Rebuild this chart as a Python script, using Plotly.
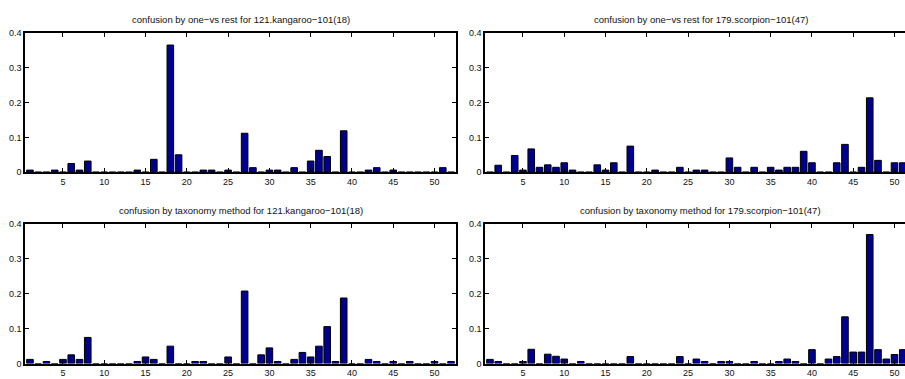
import plotly.graph_objects as go

categories = list(range(1, 53))

kangaroo_one_vs_rest = [
    0.006, 0, 0, 0.006, 0, 0.025, 0.006, 0.032, 0, 0,
    0, 0, 0, 0.006, 0, 0.037, 0, 0.366, 0.05, 0,
    0, 0.006, 0.006, 0, 0.006, 0, 0.112, 0.013, 0, 0.006,
    0.006, 0, 0.013, 0, 0.032, 0.063, 0.045, 0, 0.119, 0,
    0, 0.006, 0.013, 0, 0.006, 0, 0, 0, 0, 0,
    0.013, 0]

scorpion_one_vs_rest = [
    0, 0.02, 0, 0.048, 0.006, 0.067, 0.014, 0.021, 0.014, 0.027,
    0.006, 0, 0, 0.021, 0.006, 0.027, 0, 0.075, 0, 0,
    0.006, 0, 0, 0.014, 0, 0.006, 0.006, 0, 0, 0.041,
    0.014, 0, 0.014, 0, 0.014, 0.006, 0.014, 0.014, 0.06, 0.027,
    0, 0, 0.027, 0.08, 0, 0.014, 0.214, 0.034, 0, 0.027,
    0.027, 0]

kangaroo_taxonomy = [
    0.012, 0, 0.006, 0, 0.012, 0.025, 0.012, 0.075, 0, 0,
    0, 0, 0, 0.006, 0.019, 0.012, 0, 0.05, 0, 0,
    0.006, 0.006, 0, 0, 0.019, 0, 0.208, 0, 0.025, 0.045,
    0.006, 0, 0.012, 0.032, 0.019, 0.05, 0.106, 0.006, 0.188, 0,
    0, 0.012, 0.006, 0, 0.006, 0, 0.006, 0, 0, 0.006,
    0, 0.006]

scorpion_taxonomy = [
    0.012, 0.006, 0, 0, 0.006, 0.041, 0, 0.027, 0.021, 0.013,
    0, 0.006, 0, 0, 0, 0, 0, 0.02, 0, 0,
    0, 0, 0, 0.02, 0, 0.013, 0.006, 0, 0.006, 0.006,
    0, 0, 0.006, 0, 0, 0.006, 0.013, 0.006, 0, 0.04,
    0, 0.013, 0.02, 0.134, 0.033, 0.033, 0.37, 0.04, 0.013, 0.026,
    0.04, 0]

titles = [
    "confusion by one\u2212vs rest for 121.kangaroo\u2212101(18)",
    "confusion by one\u2212vs rest for 179.scorpion\u2212101(47)",
    "confusion by taxonomy method for 121.kangaroo\u2212101(18)",
    "confusion by taxonomy method for 179.scorpion\u2212101(47)",
]

x_tick_vals = [5, 10, 15, 20, 25, 30, 35, 40, 45, 50]
y_tick_vals = [0, 0.1, 0.2, 0.3, 0.4]
y_tick_text = ["0", "0.1", "0.2", "0.3", "0.4"]

W, H = 905, 379
FONT = "Liberation Sans, Arial, Helvetica, sans-serif"
BAR_COLOR = "#00008F"

# panel pixel boxes: (left, right, top, bottom)
panels = [
    (25, 456, 29, 171.7),
    (485, 905, 29, 171.7),
    (25, 456, 225, 368.3),
    (485, 905, 225, 368.3),
]
series = [kangaroo_one_vs_rest, scorpion_one_vs_rest, kangaroo_taxonomy, scorpion_taxonomy]
x_ranges = [[0.4, 52.6], [0.4, 51.27], [0.4, 52.6], [0.4, 51.27]]

fig = go.Figure()
layout = dict(
    width=W, height=H,
    margin=dict(l=0, r=0, t=0, b=0),
    paper_bgcolor="white", plot_bgcolor="white",
    showlegend=False,
    font=dict(family=FONT, size=9, color="#111"),
    annotations=[],
)

for i, (vals, box, xr) in enumerate(zip(series, panels, x_ranges)):
    n = "" if i == 0 else str(i + 1)
    l, r, t, b = box
    fig.add_trace(go.Bar(
        x=categories, y=vals, xaxis="x" + n, yaxis="y" + n,
        marker=dict(color=BAR_COLOR, line=dict(color="black", width=1)),
        width=0.8,
    ))
    right_panel = (i % 2 == 1)
    layout["xaxis" + n] = dict(
        domain=[l / W, r / W], range=xr, anchor="y" + n,
        tickmode="array", tickvals=x_tick_vals,
        ticks="inside", ticklen=4, tickwidth=1, tickcolor="black",
        showline=True, linecolor="black", linewidth=1.5, mirror="ticks",
        showgrid=False, zeroline=False,
        tickfont=dict(size=9, family=FONT, color="#111"),
    )
    layout["yaxis" + n] = dict(
        domain=[1 - b / H, 1 - t / H], range=[0, 0.4], anchor="x" + n,
        tickmode="array", tickvals=y_tick_vals, ticktext=y_tick_text,
        ticks="inside", ticklen=4, tickwidth=1, tickcolor="black",
        showline=True, linecolor="black", linewidth=1.5,
        mirror=False if right_panel else "ticks",
        showgrid=False, zeroline=False,
        tickfont=dict(size=9, family=FONT, color="#111"),
    )
    layout["annotations"].append(dict(
        text=titles[i], xref="paper", yref="paper",
        x=(l + r) / 2 / W if not right_panel else (485 + 485 + 431) / 2 / W,
        y=1 - (t - 14) / H,
        xanchor="center", yanchor="middle", showarrow=False,
        font=dict(size=9.5, family=FONT, color="#111"),
    ))

fig.update_layout(**layout)
fig.write_html(
    "out.html",
    config={"displayModeBar": False},
    post_script="document.body.style.margin='0';document.body.style.overflow='hidden';",
)
